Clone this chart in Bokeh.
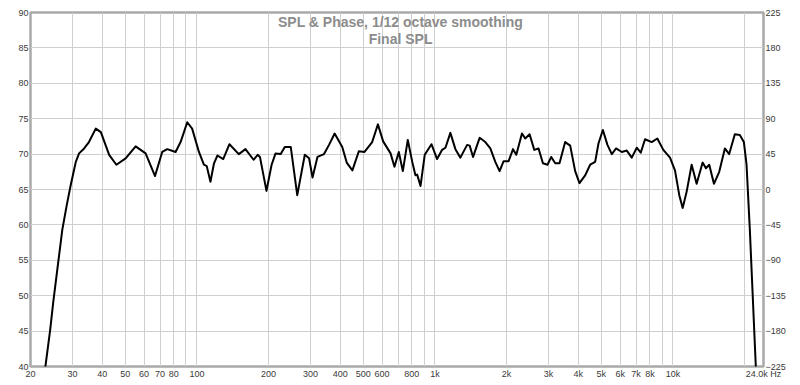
from bokeh.plotting import figure
from bokeh.models import FixedTicker, LinearAxis, Range1d, Label
from bokeh.embed import file_html
from bokeh.resources import INLINE

# ---- data ----
freq_hz = [22.8, 23.1, 24.2, 24.9, 26.1, 27.2, 28.4, 29.5, 31.0, 32.0, 33.6, 35.2, 37.6, 39.5,
           42.8, 45.9, 50.2, 55.3, 60.9, 66.7, 71.5, 75.1, 81.4, 85.4, 91.1, 95.5, 102, 107,
           110, 114, 118, 122, 129, 137, 150, 160, 173, 180, 184, 196, 206, 214, 225, 234,
           248, 264, 284, 296, 306, 321, 342, 359, 379, 408, 426, 450, 479, 506, 545, 576,
           606, 651, 676, 705, 733, 769, 803, 828, 842, 870, 906, 967, 1021, 1072, 1107,
           1161, 1219, 1279, 1365, 1399, 1446, 1541, 1628, 1709, 1793, 1869, 1943, 2039,
           2128, 2197, 2320, 2395, 2498, 2614, 2724, 2842, 2971, 3080, 3201, 3336, 3524,
           3700, 3882, 4047, 4276, 4488, 4710, 4863, 5075, 5304, 5533, 5768, 6094, 6396,
           6711, 7044, 7321, 7630, 8140, 8594, 9107, 9716, 10194, 10628, 10982, 11414,
           11978, 12570, 13320, 13752, 14200, 14860, 15640, 16520, 17220, 18190, 19090,
           19850, 20370, 21030, 22280, 22700]
spl_db = [38.0, 40.0, 45.2, 49.0, 54.5, 59.3, 62.8, 65.6, 68.9, 70.1, 70.8, 71.7, 73.6, 73.1,
          69.9, 68.5, 69.4, 71.1, 70.1, 66.9, 70.3, 70.7, 70.3, 71.7, 74.5, 73.6, 70.3, 68.5,
          68.3, 66.1, 68.7, 69.8, 69.3, 71.4, 70.0, 70.7, 69.2, 69.9, 69.6, 64.8, 68.5, 70.1,
          70.0, 71.0, 71.0, 64.2, 69.9, 69.4, 66.7, 69.6, 70.0, 71.3, 72.9, 71.0, 68.8, 67.7,
          70.4, 70.3, 71.7, 74.2, 71.8, 70.1, 68.2, 70.3, 67.6, 72.0, 68.9, 67.0, 67.1, 65.5,
          69.9, 71.4, 69.3, 70.6, 70.9, 73.0, 70.7, 69.5, 71.3, 71.2, 69.6, 72.3, 71.7, 70.8,
          68.9, 67.6, 69.0, 69.0, 70.7, 69.9, 72.9, 72.2, 72.8, 70.6, 70.8, 68.7, 68.5, 69.6,
          68.7, 68.7, 71.7, 71.2, 67.6, 65.9, 67.0, 68.5, 68.9, 71.5, 73.4, 71.3, 70.0, 70.8,
          70.3, 70.5, 69.5, 70.9, 70.2, 72.1, 71.7, 72.2, 70.6, 69.5, 67.7, 64.2, 62.4, 64.7,
          68.5, 65.8, 68.8, 68.0, 68.5, 65.8, 67.5, 70.8, 70.0, 72.8, 72.7, 71.7, 68.5, 59.3,
          40.0, 37.0]

x_grid_ticks = [20, 30, 40, 50, 60, 70, 80, 90, 100, 200, 300, 400, 500, 600, 700, 800, 900,
                1000, 2000, 3000, 4000, 5000, 6000, 7000, 8000, 9000, 10000, 20000, 24000]
x_tick_labels = {20: "20", 30: "30", 40: "40", 50: "50", 60: "60", 70: "70", 80: "80", 90: "",
                 100: "100", 200: "200", 300: "300", 400: "400", 500: "500", 600: "600",
                 700: "", 800: "800", 900: "", 1000: "1k", 2000: "2k", 3000: "3k", 4000: "4k",
                 5000: "5k", 6000: "6k", 7000: "7k", 8000: "8k", 9000: "", 10000: "10k",
                 20000: "", 24000: "24.0k Hz"}
db_ticks = [40, 45, 50, 55, 60, 65, 70, 75, 80, 85, 90]
deg_ticks = [-225, -180, -135, -90, -45, 0, 45, 90, 135, 180, 225]
title_lines = ["SPL & Phase, 1/12 octave smoothing", "Final SPL"]

FONT = "Liberation Sans"
GRID = "#cfcfcf"
TICK_TXT = "#3a3a3a"

p = figure(width=792, height=381, x_axis_type="log", x_range=(20, 24000), y_range=(40, 90),
           output_backend="svg", toolbar_location=None,
           min_border_left=30, min_border_right=29, min_border_top=12, min_border_bottom=13)
p.background_fill_color = "white"
p.border_fill_color = "white"
p.outline_line_color = "#a9a9a9"
p.outline_line_width = 2.5

p.extra_y_ranges = {"deg": Range1d(-225, 225)}

# grid
p.xgrid.ticker = FixedTicker(ticks=x_grid_ticks)
p.ygrid.ticker = FixedTicker(ticks=db_ticks)
for g in (p.xgrid, p.ygrid):
    g.grid_line_color = GRID
    g.grid_line_width = 1

# axes
def style_axis(ax):
    ax.axis_line_color = None
    ax.major_tick_line_color = None
    ax.minor_tick_line_color = None
    ax.major_tick_out = 0
    ax.major_tick_in = 0
    ax.major_label_standoff = 2
    ax.major_label_text_font = FONT
    ax.major_label_text_font_size = "9px"
    ax.major_label_text_color = TICK_TXT

xa = p.xaxis[0]
xa.ticker = FixedTicker(ticks=x_grid_ticks)
xa.major_label_overrides = x_tick_labels
style_axis(xa)

ya = p.yaxis[0]
ya.ticker = FixedTicker(ticks=db_ticks)
style_axis(ya)

ra = LinearAxis(y_range_name="deg", ticker=FixedTicker(ticks=deg_ticks))
style_axis(ra)
p.add_layout(ra, "right")

# curve
p.line(freq_hz, spl_db, line_color="black", line_width=2, line_join="round")

# unit labels
p.add_layout(Label(x=20, y=90, x_offset=-3, y_offset=3, text="dB", text_align="right",
                   text_baseline="bottom", text_font=FONT, text_font_size="9px",
                   text_color=TICK_TXT))
p.add_layout(Label(x=24000, y=90, x_offset=3, y_offset=3, text="deg", text_align="left",
                   text_baseline="bottom", text_font=FONT, text_font_size="9px",
                   text_color=TICK_TXT))

# title inside plot
for i, t in enumerate(title_lines):
    p.add_layout(Label(x=717, y=90, y_offset=-1 - 17 * i, text=t, text_align="center",
                       text_baseline="top", text_font=FONT, text_font_size="14px",
                       text_font_style="bold", text_color="#8c8c8c"))

open("out.html", "w").write(file_html(p, INLINE))
